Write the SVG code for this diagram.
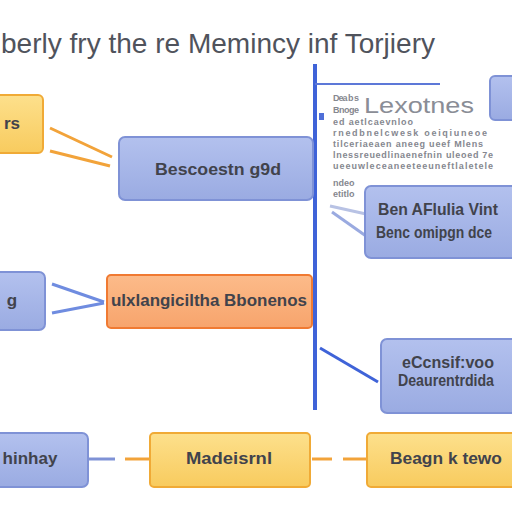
<svg xmlns="http://www.w3.org/2000/svg" width="512" height="512" viewBox="0 0 512 512">
<defs>
<linearGradient id="gb" x1="0" y1="0" x2="0" y2="1"><stop offset="0" stop-color="#b3c1ee"/><stop offset="1" stop-color="#9aabe2"/></linearGradient>
<linearGradient id="go" x1="0" y1="0" x2="0" y2="1"><stop offset="0" stop-color="#fde08c"/><stop offset="1" stop-color="#f8cb5e"/></linearGradient>
<linearGradient id="gr" x1="0" y1="0" x2="0" y2="1"><stop offset="0" stop-color="#fcbb8a"/><stop offset="1" stop-color="#f7a46c"/></linearGradient>
</defs>
<style>
.blue{fill:url(#gb);stroke:#7f92d6;stroke-width:2}
.yel{fill:url(#go);stroke:#f0aa36;stroke-width:2}
.red{fill:url(#gr);stroke:#f07a32;stroke-width:2}
.t{font-family:"Liberation Sans Narrow","Liberation Sans",Arial,sans-serif;fill:#41434c;font-size:17px;font-weight:bold;text-anchor:middle}
.s{font-family:"Liberation Sans Narrow","Liberation Sans",Arial,sans-serif;fill:#85878f;font-size:9px;font-weight:bold}
.cb{stroke:#6f8ce0;stroke-width:3;fill:none}
.co{stroke:#f2a33a;stroke-width:3;fill:none}
</style>
<rect width="512" height="512" fill="#ffffff"/>
<text x="218" y="53" font-family="Liberation Sans,Arial,sans-serif" font-size="28" fill="#50535c" text-anchor="middle" textLength="434" lengthAdjust="spacingAndGlyphs">berly fry the re Memincy inf Torjiery</text>

<g id="connectors">
<line x1="315" y1="64" x2="315" y2="410" stroke="#3f63d8" stroke-width="4"/>
<line x1="315" y1="84" x2="440" y2="84" stroke="#5d78d8" stroke-width="2"/>
<rect x="319" y="113" width="5" height="7" fill="#4f6fd8"/>
<line x1="50" y1="128" x2="112" y2="157" class="co"/>
<line x1="50" y1="151" x2="110" y2="166" class="co"/>
<line x1="52" y1="284" x2="104" y2="302" class="cb"/>
<line x1="52" y1="313" x2="104" y2="303" class="cb"/>
<line x1="320" y1="348" x2="378" y2="382" stroke="#3f63d8" stroke-width="3"/>
<line x1="330" y1="206" x2="366" y2="214" stroke="#b8c2e4" stroke-width="3"/>
<line x1="332" y1="212" x2="366" y2="236" stroke="#9aaae0" stroke-width="3"/>
<line x1="88" y1="459" x2="115" y2="459" stroke="#7f92d6" stroke-width="3"/>
<line x1="125" y1="459" x2="150" y2="459" class="co"/>
<line x1="312" y1="459" x2="332" y2="459" class="co"/>
<line x1="343" y1="459" x2="367" y2="459" class="co"/>
</g>

<g id="n1"><rect x="-8" y="95" width="51" height="58" rx="5" class="yel"/><text x="12" y="129" class="t" font-size="14">rs</text></g>
<g id="n2"><rect x="119" y="137" width="194" height="63" rx="6" class="blue"/><text x="218" y="175" class="t" textLength="126" lengthAdjust="spacingAndGlyphs">Bescoestn g9d</text></g>
<g id="n3"><rect x="490" y="76" width="30" height="44" rx="5" class="blue"/></g>
<g id="n4">
<text x="333" y="101" class="s" textLength="26">Dea b s</text>
<text x="333" y="113" class="s" textLength="26">Bnoge</text>
<text x="364" y="113" font-family="Liberation Sans,Arial,sans-serif" font-size="22" fill="#8a8d96" textLength="110" lengthAdjust="spacingAndGlyphs">Lexotnes</text>
<text x="333" y="125" class="s" textLength="80">ed aetlcaevnloo</text>
<text x="333" y="136" class="s" textLength="154">rnedbnelcwesk oeiqiuneoe</text>
<text x="333" y="147" class="s" textLength="150">tilceriaeaen aneeg ueef Mlens</text>
<text x="333" y="158" class="s" textLength="160">lnessreuedlinaenefnin uleoed  7e</text>
<text x="333" y="169" class="s" textLength="160">ueeuwleceaneeteeuneftlaletele</text>
<text x="333" y="186" class="s">ndeo</text>
<text x="333" y="197" class="s">etitlo</text>
</g>
<g id="n5"><rect x="365" y="186" width="156" height="72" rx="6" class="blue"/><text x="438" y="215" class="t" font-size="16" textLength="120" lengthAdjust="spacingAndGlyphs">Ben AFlulia Vint</text><text x="434" y="238" class="t" font-size="13" textLength="116" lengthAdjust="spacingAndGlyphs">Benc omipgn dce</text></g>
<g id="n6"><rect x="-8" y="272" width="53" height="58" rx="6" class="blue"/><text x="12" y="306" class="t">g</text></g>
<g id="n7"><rect x="107" y="275" width="205" height="53" rx="4" class="red"/><text x="209" y="306" class="t" textLength="196" lengthAdjust="spacingAndGlyphs">ulxlangiciltha Bbonenos</text></g>
<g id="n8"><rect x="381" y="339" width="140" height="74" rx="6" class="blue"/><text x="448" y="368" class="t" font-size="16" textLength="92" lengthAdjust="spacingAndGlyphs">eCcnsif:voo</text><text x="446" y="386" class="t" font-size="14" textLength="96" lengthAdjust="spacingAndGlyphs">Deaurentrdida</text></g>
<g id="n9"><rect x="-8" y="433" width="96" height="54" rx="6" class="blue"/><text x="30" y="464" class="t">hinhay</text></g>
<g id="n10"><rect x="150" y="433" width="160" height="54" rx="4" class="yel"/><text x="229" y="464" class="t" textLength="86" lengthAdjust="spacingAndGlyphs">Madeisrnl</text></g>
<g id="n11"><rect x="367" y="433" width="154" height="54" rx="4" class="yel"/><text x="446" y="464" class="t" textLength="112" lengthAdjust="spacingAndGlyphs">Beagn k tewo</text></g>
</svg>
